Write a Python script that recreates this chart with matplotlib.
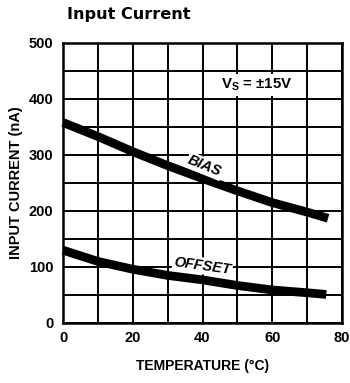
import matplotlib
matplotlib.use("Agg")
import matplotlib.pyplot as plt
import numpy as np

bias_temps = [0, 10, 20, 30, 40, 50, 60, 70, 76]
bias = [358, 333, 306, 281, 258, 236, 215, 198, 187]
offset_temps = [0, 10, 20, 30, 40, 50, 60, 70, 75.5]
offset = [130, 110, 96, 85, 77, 67, 59, 54, 51]
xticks = [0, 20, 40, 60, 80]
yticks = [0, 100, 200, 300, 400, 500]

plt.rcParams['font.family'] = ['Liberation Sans', 'DejaVu Sans']

fig = plt.figure(figsize=(3.5, 3.83), dpi=100)
ax = fig.add_axes([63/350, 1-323/383, (342-63)/350, (323-43)/383])

ax.set_xlim(0, 80)
ax.set_ylim(0, 500)
ax.set_xticks(xticks)
ax.set_xticks(np.arange(0, 81, 10), minor=True)
ax.set_yticks(yticks)
ax.set_yticks(np.arange(0, 501, 50), minor=True)
ax.grid(True, which='both', color='black', linewidth=1.4)
ax.tick_params(which='both', length=0)
ax.tick_params(axis='x', pad=6)
ax.tick_params(axis='y', pad=7)
ax.set_xticklabels([str(v) for v in xticks], fontweight='bold', fontsize=10.5)
ax.set_yticklabels([str(v) for v in yticks], fontweight='bold', fontsize=10.5)
for s in ax.spines.values():
    s.set_linewidth(1.8)

ax.plot(bias_temps, bias, color='black', linewidth=6.3, solid_capstyle='butt', clip_on=False, zorder=3)
ax.plot(offset_temps, offset, color='black', linewidth=6.3, solid_capstyle='butt', clip_on=False, zorder=3)

ax.text(40.7, 280, 'BIAS', rotation=-22, ha='center', va='center', fontsize=10.5,
        fontweight='bold', fontstyle='italic', zorder=4,
        bbox=dict(facecolor='white', edgecolor='none', pad=1))
ax.text(40, 102, 'OFFSET', rotation=-8, ha='center', va='center', fontsize=10.5,
        fontweight='bold', fontstyle='italic', zorder=4,
        bbox=dict(facecolor='white', edgecolor='none', pad=1))
ax.text(55.6, 425, r'V$_\mathregular{S}$ = ±15V', ha='center', va='center', fontsize=10.8,
        fontweight='bold', zorder=4,
        bbox=dict(facecolor='white', edgecolor='none', pad=2))

ax.set_xlabel('TEMPERATURE (°C)', fontweight='bold', fontsize=10, labelpad=10)
ax.set_ylabel('INPUT CURRENT (nA)', fontweight='bold', fontsize=10.5, labelpad=4)

fig.text(67/350, 1-15/383, 'Input Current', fontweight='bold', fontsize=11.6,
         ha='left', va='center', family=['DejaVu Sans'])

fig.savefig('out.png', dpi=100)
